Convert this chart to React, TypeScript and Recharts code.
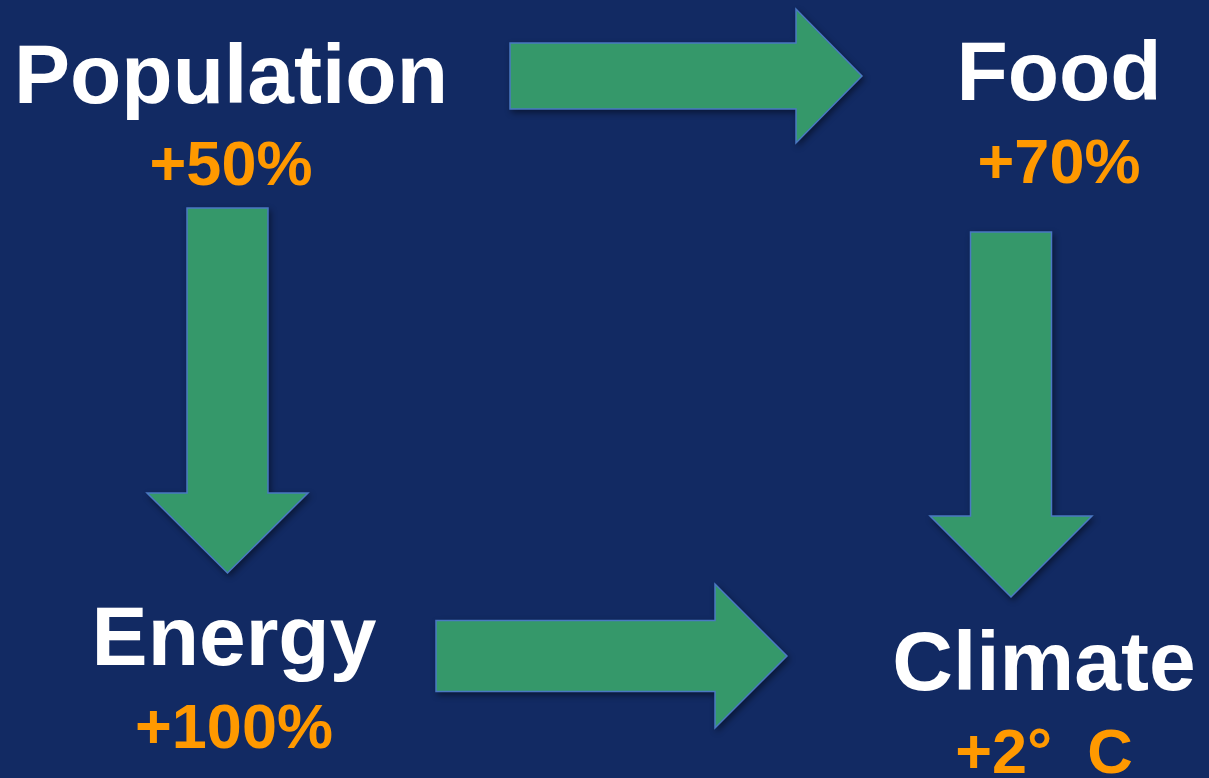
import React from 'react';
import { ComposedChart, XAxis, YAxis, Scatter, ReferenceArea } from 'recharts';

const W = 1209;
const H = 778;

// nodes: name, change and where their text sits (x centre, baselines)
const nodeNames = ['Population', 'Food', 'Energy', 'Climate'];
const nodeChanges = ['+50%', '+70%', '+100%', '+2°\u00A0\u00A0C'];
const nodeX = [231, 1059, 234, 1044];
const nameY = [103, 100, 665, 690];
const changeY = [185, 183, 748, 773];

// arrows: bounding box plus shaft / head proportions
const arrowFrom = ['Population', 'Population', 'Food', 'Energy'];
const arrowTo = ['Food', 'Energy', 'Climate', 'Climate'];
const arrowDir = ['right', 'down', 'down', 'right'];
const arrowX1 = [510, 147, 930, 436];
const arrowX2 = [862, 308, 1092, 787];
const arrowY1 = [9, 208, 232, 584];
const arrowY2 = [143, 573, 597, 728];
const arrowShaft = [66, 81, 81, 71];
const arrowHead = [66, 80, 81, 72];

const nodes = nodeNames.map((name, i) => ({
  name,
  change: nodeChanges[i],
  x: nodeX[i],
  y: nameY[i],
  y2: changeY[i],
}));

const arrows = arrowFrom.map((from, i) => ({
  key: `${from}-${arrowTo[i]}`,
  dir: arrowDir[i],
  x1: arrowX1[i],
  x2: arrowX2[i],
  y1: arrowY1[i],
  y2: arrowY2[i],
  shaftFrac:
    arrowShaft[i] /
    (arrowDir[i] === 'right' ? arrowY2[i] - arrowY1[i] : arrowX2[i] - arrowX1[i]),
  headFrac:
    arrowHead[i] /
    (arrowDir[i] === 'right' ? arrowX2[i] - arrowX1[i] : arrowY2[i] - arrowY1[i]),
}));

const FONT = '"Liberation Sans", Arial, sans-serif';

const makeArrowShape = (dir: string, shaftFrac: number, headFrac: number) =>
  (props: any) => {
    const { x, y, width, height } = props;
    let pts: number[][];
    if (dir === 'right') {
      const cy = y + height / 2;
      const s = (height * shaftFrac) / 2;
      const hx = x + width - width * headFrac;
      pts = [
        [x, cy - s], [hx, cy - s], [hx, y], [x + width, cy],
        [hx, y + height], [hx, cy + s], [x, cy + s],
      ];
    } else {
      const cx = x + width / 2;
      const s = (width * shaftFrac) / 2;
      const hy = y + height - height * headFrac;
      pts = [
        [cx - s, y], [cx + s, y], [cx + s, hy], [x + width, hy],
        [cx, y + height], [x, hy], [cx - s, hy],
      ];
    }
    return (
      <polygon
        points={pts.map((p) => p.join(',')).join(' ')}
        fill="#35986a"
        stroke="#4a78c2"
        strokeWidth={1.5}
        strokeLinejoin="miter"
        style={{ filter: 'drop-shadow(2px 3px 3px rgba(0,0,0,0.45))' }}
      />
    );
  };

const NodeLabel = (props: any) => {
  const { cx, cy, payload, yAxis } = props;
  const dy = payload.y2 - payload.y;
  return (
    <g>
      <text
        x={cx}
        y={cy}
        textAnchor="middle"
        fill="#ffffff"
        fontFamily={FONT}
        fontWeight="bold"
        fontSize={84}
      >
        {payload.name}
      </text>
      <text
        x={cx}
        y={cy + dy}
        textAnchor="middle"
        fill="#ff9900"
        fontFamily={FONT}
        fontWeight="bold"
        fontSize={63}
      >
        {payload.change}
      </text>
    </g>
  );
};

export default function App() {
  return (
    <div
      style={{
        position: 'absolute',
        left: 0,
        top: 0,
        width: W,
        height: H,
        background: '#122a63',
        overflow: 'hidden',
      }}
    >
      <ComposedChart
        width={W}
        height={H}
        data={nodes}
        margin={{ top: 0, right: 0, bottom: 0, left: 0 }}
      >
        <XAxis type="number" dataKey="x" domain={[0, W]} hide allowDataOverflow />
        <YAxis type="number" dataKey="y" domain={[0, H]} reversed hide allowDataOverflow />
        {arrows.map((a) => (
          <ReferenceArea
            key={a.key}
            x1={a.x1}
            x2={a.x2}
            y1={a.y1}
            y2={a.y2}
            ifOverflow="visible"
            shape={makeArrowShape(a.dir, a.shaftFrac, a.headFrac)}
          />
        ))}
        <Scatter data={nodes} dataKey="y" isAnimationActive={false} shape={NodeLabel} />
      </ComposedChart>
    </div>
  );
}
